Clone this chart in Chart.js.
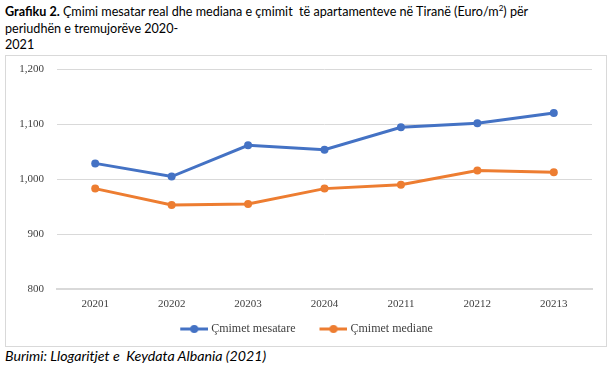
<!DOCTYPE html>
<html>
<head>
<meta charset="utf-8">
<script src="https://cdn.jsdelivr.net/npm/chart.js@4"></script>
<style>
  html, body { margin: 0; padding: 0; background: #fff; width: 616px; height: 369px; overflow: hidden; }
  #title { position: absolute; left: 5px; top: 4px; font-family: Lato, "Open Sans", sans-serif; font-size: 12.6px; line-height: 16.5px; color: #000; white-space: nowrap; }
  #title sup { font-size: 8px; vertical-align: 5px; line-height: 0; }
  #box { position: absolute; left: 5px; top: 55px; width: 600px; height: 290px; border: 1px solid #d9d9d9; overflow: hidden; }
  #box canvas { display: block; position: absolute; left: 0; top: -6px; }
  #source { position: absolute; left: 5px; top: 347px; font-family: Lato, "Open Sans", sans-serif; font-style: italic; font-size: 14.2px; color: #000; white-space: nowrap; }
</style>
</head>
<body>
<div id="title"><b>Grafiku 2.</b> Çmimi mesatar real dhe mediana e çmimit&nbsp; të apartamenteve në Tiranë (Euro/m<sup>2</sup>) për<br>periudhën e tremujorëve 2020-<br>2021</div>
<div id="box"><canvas id="c" width="600" height="302"></canvas></div>
<div id="source">Burimi: Llogaritjet e&nbsp; Keydata Albania (2021)</div>
<script>
const categories = ['20201', '20202', '20203', '20204', '20211', '20212', '20213'];
const mesatare = [1029, 1005, 1062, 1054, 1095, 1102, 1121];
const mediane = [983, 953, 955, 983, 990, 1016, 1013];
const seriesNames = ['Çmimet mesatare', 'Çmimet mediane'];
const yTicks = [800, 900, 1000, 1100, 1200];

const BLUE = '#4472C4';
const ORANGE = '#ED7D31';
const SERIF = "'Liberation Serif', 'Times New Roman', serif";

function legendIcon(color) {
  const c = document.createElement('canvas');
  c.width = 46; c.height = 10;
  const g = c.getContext('2d');
  g.strokeStyle = color; g.lineWidth = 3;
  g.beginPath(); g.moveTo(18, 5); g.lineTo(46, 5); g.stroke();
  g.fillStyle = color;
  g.beginPath(); g.arc(32, 5, 4, 0, Math.PI * 2); g.fill();
  return c;
}
const icons = [legendIcon(BLUE), legendIcon(ORANGE)];

new Chart(document.getElementById('c'), {
  type: 'line',
  data: {
    labels: categories,
    datasets: [
      { label: seriesNames[0], data: mesatare, borderColor: BLUE, backgroundColor: BLUE, borderWidth: 3, pointRadius: 4, pointBackgroundColor: BLUE, pointBorderWidth: 0, tension: 0 },
      { label: seriesNames[1], data: mediane, borderColor: ORANGE, backgroundColor: ORANGE, borderWidth: 3, pointRadius: 4, pointBackgroundColor: ORANGE, pointBorderWidth: 0, tension: 0 }
    ]
  },
  options: {
    responsive: false,
    animation: false,
    devicePixelRatio: 1,
    layout: { padding: { left: 0, right: 14, top: 7, bottom: 7 } },
    plugins: {
      tooltip: { enabled: false },
      legend: {
        position: 'bottom',
        labels: {
          usePointStyle: true,
          pointStyleWidth: 40,
          boxWidth: 40,
          boxHeight: 10,
          padding: 9,
          color: '#404040',
          font: { family: SERIF, size: 12 },
          generateLabels: (chart) => chart.data.datasets.map((ds, i) => ({
            text: ds.label,
            pointStyle: icons[i],
            fillStyle: ds.borderColor,
            strokeStyle: ds.borderColor,
            lineWidth: 0,
            datasetIndex: i,
            hidden: false,
            fontColor: '#404040'
          }))
        }
      }
    },
    scales: {
      x: {
        offset: true,
        grid: { display: false, drawTicks: false, offset: true },
        border: { display: true, color: '#d9d9d9', width: 2 },
        ticks: { color: '#404040', padding: 9, font: { family: SERIF, size: 11 } },
        afterFit: (s) => { s.height = 25; }
      },
      y: {
        min: 800, max: 1200,
        afterBuildTicks: (s) => { s.ticks = yTicks.map(v => ({ value: v })); },
        grid: { color: '#d9d9d9', lineWidth: 1, drawTicks: false },
        border: { display: false },
        ticks: {
          color: '#404040', padding: 13,
          font: { family: SERIF, size: 11 },
          callback: (v) => Number(v).toLocaleString('en-US')
        },
        afterFit: (s) => { s.width = 51; }
      }
    }
  }
});
</script>
</body>
</html>
